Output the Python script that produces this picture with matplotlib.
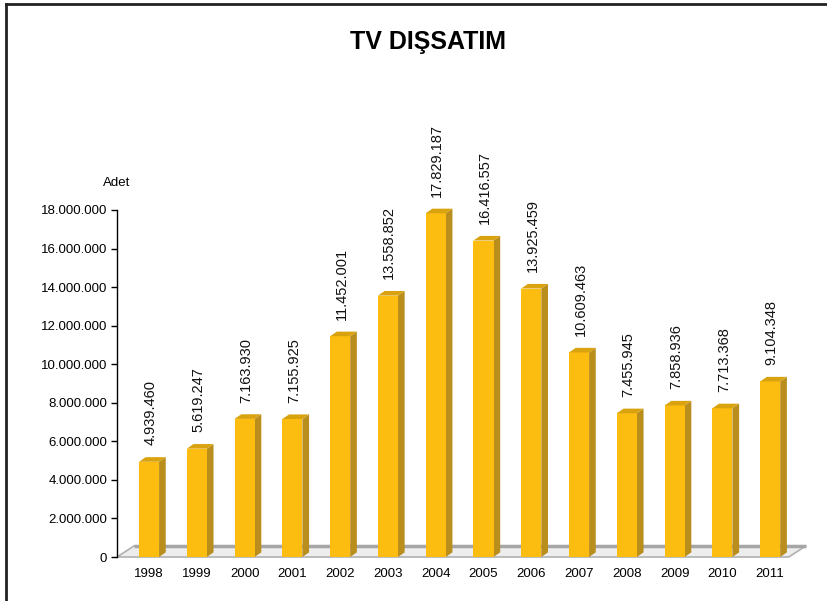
import matplotlib.pyplot as plt
from matplotlib.patches import Polygon
import numpy as np

plt.rcParams['font.family'] = ['Liberation Sans', 'DejaVu Sans']

years = ['1998', '1999', '2000', '2001', '2002', '2003', '2004',
         '2005', '2006', '2007', '2008', '2009', '2010', '2011']
adet = [4939460, 5619247, 7163930, 7155925, 11452001, 13558852, 17829187,
        16416557, 13925459, 10609463, 7455945, 7858936, 7713368, 9104348]
yticks = np.arange(0, 18000001, 2000000)

def fmt(v):
    return '{:,}'.format(v).replace(',', '.')

fig = plt.figure(figsize=(8.27, 6.01), dpi=100)
ax = fig.add_axes([117/827, 44/601, 689/827, 347/601])

x = np.arange(len(years))
w = 0.42
dx, dy = 0.14, 0.24e6      # bar depth
fx, fy = 0.36, 0.58e6      # floor depth
x0, x1 = -0.67, 13.75
ax.set_xlim(x0, x1)
ax.set_ylim(0, 18000000)

# floor
floor = Polygon([(x0, 0), (x1 - fx, 0), (x1, fy), (x0 + fx, fy)],
                closed=True, facecolor='#ededed', edgecolor='#b0b0b0',
                linewidth=1.2, clip_on=False, zorder=1)
ax.add_patch(floor)
ax.plot([x0 + fx, x1], [fy, fy], color='#a6a6a6', lw=2.5, zorder=1.5,
        clip_on=False, solid_capstyle='butt')

# bars with side and top faces
ax.bar(x, adet, width=w, bottom=0, color='#fdbd10', zorder=3,
       edgecolor='none')
for xi, v in zip(x, adet):
    r = xi + w/2
    l = xi - w/2
    ax.add_patch(Polygon([(r, 0), (r + dx, dy), (r + dx, v + dy), (r, v)],
                         closed=True, facecolor='#b98e1c', edgecolor='none',
                         zorder=2.5, clip_on=False))
    ax.add_patch(Polygon([(l, v), (r, v), (r + dx, v + dy), (l + dx, v + dy)],
                         closed=True, facecolor='#d9a20f', edgecolor='none',
                         zorder=3.5, clip_on=False))
    ax.text(xi + 0.03, v + 0.85e6, fmt(v), rotation=90, ha='center',
            va='bottom', fontsize=10.5, color='#111111', clip_on=False)

ax.set_xticks(x)
ax.set_xticklabels(years, fontsize=9.5)
ax.tick_params(axis='x', length=0, pad=8)
ax.set_yticks(yticks)
ax.set_yticklabels([fmt(int(t)) for t in yticks], fontsize=9.5)
ax.tick_params(axis='y', length=4, width=1, direction='out', pad=3)

for s in ['top', 'right', 'bottom']:
    ax.spines[s].set_visible(False)
ax.spines['left'].set_linewidth(1)

fig.text(103/827, 1 - 183/601, 'Adet', fontsize=9.5, ha='left', va='center')
fig.text(428/827, 1 - 42/601, 'TV DIŞSATIM', fontsize=18, fontweight='bold',
         ha='center', va='center')

# border along top and left edge
fig.add_artist(plt.Line2D([6/827, 6/827], [0, 1 - 4/601], color='#222222',
                          lw=2, transform=fig.transFigure))
fig.add_artist(plt.Line2D([6/827, 1], [1 - 4/601, 1 - 4/601], color='#222222',
                          lw=2, transform=fig.transFigure))

fig.savefig('out.png', dpi=100)
